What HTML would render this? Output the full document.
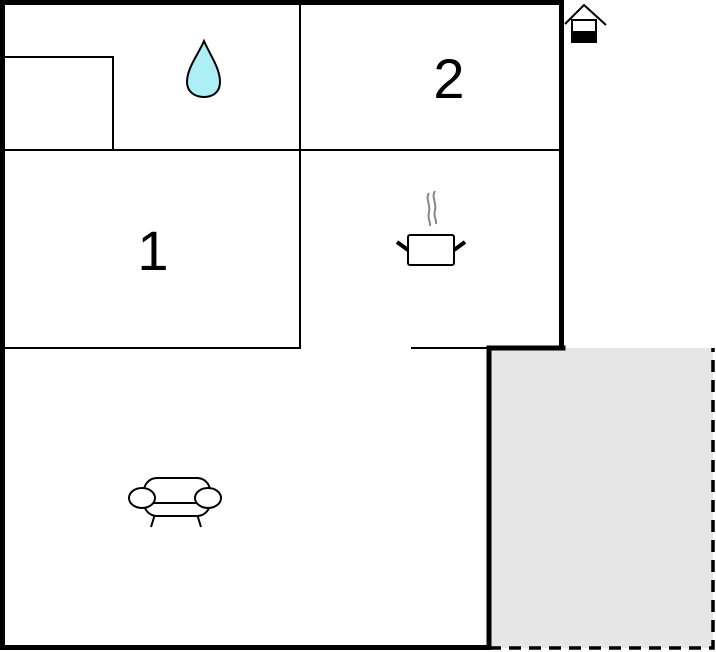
<!DOCTYPE html>
<html><head><meta charset="utf-8"><style>
html,body{margin:0;padding:0;background:#fff;}
svg{display:block;}
</style></head><body>
<svg width="716" height="652" viewBox="0 0 716 652" xmlns="http://www.w3.org/2000/svg">
<rect x="489" y="348" width="224" height="300" fill="#e6e6e6"/>
<path d="M489 648 H713 V348" fill="none" stroke="#000" stroke-width="3.5" stroke-dasharray="12,8"/>
<g stroke="#000" stroke-width="2" fill="none">
<line x1="300" y1="4" x2="300" y2="349"/>
<line x1="4" y1="150" x2="561" y2="150"/>
<line x1="4" y1="348" x2="301" y2="348"/>
<line x1="411" y1="348" x2="489" y2="348"/>
<polyline points="4,57 113,57 113,150"/>
</g>
<g stroke="#000" stroke-width="5" fill="none" stroke-linecap="square">
<polyline points="2.5,647.5 2.5,2.5 561.5,2.5 561.5,348"/>
<polyline points="2.5,647.5 489,647.5 489,348 563,348"/>
</g>
<text x="449" y="98" font-family="Liberation Sans, sans-serif" font-size="56" text-anchor="middle">2</text>
<text x="153" y="270" font-family="Liberation Sans, sans-serif" font-size="56" text-anchor="middle">1</text>
<path d="M204 41 C198 55 187 68 187 82 C187 92 195 97 204 97 C213 97 220 92 220 82 C220 68 210 55 204 41 Z" fill="#aeeef5" stroke="#000" stroke-width="2"/>
<g fill="none">
<path d="M429 193 C425 199 431 205 429 212 C427 219 431 222 430 226" stroke="#888" stroke-width="2"/>
<path d="M435 191 C431 197 437 203 435 210 C433 217 437 220 436 224" stroke="#888" stroke-width="2"/>
<rect x="408" y="235" width="46" height="30" rx="2" stroke="#000" stroke-width="2" fill="#fff"/>
<line x1="397" y1="242" x2="408" y2="250" stroke="#000" stroke-width="4"/>
<line x1="454" y1="250" x2="465" y2="242" stroke="#000" stroke-width="4"/>
</g>
<g fill="#fff" stroke="#000" stroke-width="2">
<line x1="155" y1="514" x2="151" y2="527"/>
<line x1="197" y1="514" x2="201" y2="527"/>
<rect x="144" y="478" width="66" height="38" rx="13"/>
<line x1="150" y1="503" x2="204" y2="503"/>
<ellipse cx="142" cy="498" rx="13" ry="10"/>
<ellipse cx="208" cy="498" rx="13" ry="10"/>
</g>
<g>
<rect x="572" y="20" width="24" height="22" fill="#fff" stroke="#000" stroke-width="2"/>
<rect x="572" y="31" width="24" height="11" fill="#000"/>
<polyline points="565,24 584,5 606,25" fill="none" stroke="#000" stroke-width="2"/>
</g>
</svg>
</body></html>
